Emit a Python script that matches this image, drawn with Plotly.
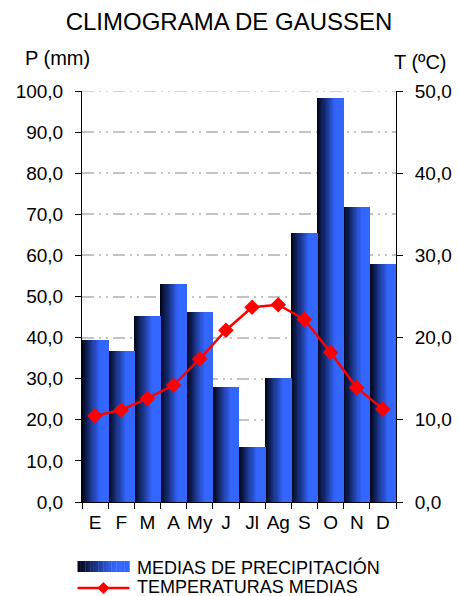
import plotly.graph_objects as go

months = ["E", "F", "M", "A", "My", "J", "Jl", "Ag", "S", "O", "N", "D"]
precip = [39.4, 36.7, 45.3, 53.1, 46.3, 28.0, 13.3, 30.2, 65.5, 98.2, 71.8, 57.9]
temp = [10.5, 11.2, 12.6, 14.2, 17.4, 20.9, 23.7, 24.0, 22.2, 18.2, 13.9, 11.3]
p_ticks = [0, 10, 20, 30, 40, 50, 60, 70, 80, 90, 100]
t_ticks = [0, 10, 20, 30, 40, 50]

FONT = "Liberation Sans, Arial, sans-serif"


def grad_color(f):
    # horizontal gradient: near black on the left, blue on the right
    c0 = (0, 2, 16)
    c1 = (51, 102, 255)
    k = min(f / 0.7, 1.0)
    return "rgb(%d,%d,%d)" % tuple(round(a + (b - a) * k) for a, b in zip(c0, c1))


fig = go.Figure()
N = 24
for i in range(N):
    f = (i + 0.5) / N
    fig.add_trace(go.Bar(
        x=months, y=precip,
        width=1.0 / N + 0.004, offset=-0.5 + i / N,
        marker=dict(color=grad_color(f), line=dict(width=0)),
        showlegend=False, hoverinfo="skip" if i else "x+y",
        name="MEDIAS DE PRECIPITACIÓN",
    ))

fig.add_trace(go.Scatter(
    x=months, y=temp, yaxis="y2", mode="lines+markers",
    line=dict(color="#FF0000", width=2.5),
    marker=dict(symbol="diamond", size=12, color="#FF0000"),
    showlegend=False, name="TEMPERATURAS MEDIAS",
))

L, R, T, B = 81.5, 62, 91, 94
W = 458 - L - R
H = 596 - T - B

grid_dash = "12px,5px,2px,5px,2px,5px"
GRID = "#C4C4C4"
fig.update_layout(
    width=458, height=596,
    margin=dict(l=L, r=R, t=T, b=B, autoexpand=False),
    paper_bgcolor="white", plot_bgcolor="white",
    bargap=0, barmode="overlay",
    separators=",.",
    font=dict(family=FONT, size=20, color="black"),
    title=dict(text="CLIMOGRAMA DE GAUSSEN", x=0.5, xanchor="center",
               y=1 - 22 / 596, yanchor="middle",
               font=dict(size=24, family=FONT, color="black")),
    xaxis=dict(
        type="category", categoryorder="array", categoryarray=months,
        range=[-0.5, 11.5], showline=True, linecolor="black", linewidth=1,
        ticks="outside", tickson="boundaries", ticklen=6, tickcolor="black",
        showgrid=False, tickfont=dict(size=19), tickangle=0, automargin=False,
        ticklabelstandoff=3, fixedrange=True,
    ),
    yaxis=dict(
        range=[0, 100], tickvals=p_ticks, tickformat=".1f",
        showline=True, linecolor="black", linewidth=1,
        ticks="outside", ticklen=6, tickcolor="black",
        showgrid=True, gridcolor=GRID, gridwidth=1.5, griddash=grid_dash,
        zeroline=False, tickfont=dict(size=19), ticklabelstandoff=8,
        automargin=False,
    ),
    yaxis2=dict(
        range=[0, 50], tickvals=t_ticks, tickformat=".1f",
        overlaying="y", side="right",
        showline=True, linecolor="black", linewidth=1,
        ticks="outside", ticklen=6, tickcolor="black",
        showgrid=False, zeroline=False, tickfont=dict(size=19),
        ticklabelstandoff=8, automargin=False,
    ),
)

# top gridline (at the last tick, which sits on the plot edge)
fig.add_shape(type="line", xref="paper", yref="y", x0=0, x1=1,
              y0=p_ticks[-1], y1=p_ticks[-1],
              line=dict(color=GRID, width=1.5, dash=grid_dash), layer="below")


def px(x):
    return (x - L) / W


def py(y):
    return (596 - B - y) / H


# axis captions
fig.add_annotation(text="P (mm)", xref="paper", yref="paper",
                   x=px(57), y=py(58), xanchor="center", yanchor="middle",
                   showarrow=False, font=dict(size=20, family=FONT))
fig.add_annotation(text="T (ºC)", xref="paper", yref="paper",
                   x=px(420), y=py(62), xanchor="center", yanchor="middle",
                   showarrow=False, font=dict(size=20, family=FONT))

# custom legend (paper coords)
M = 20
x0, x1 = 77, 129
for i in range(M):
    a = x0 + (x1 - x0) * i / M
    b = x0 + (x1 - x0) * (i + 1) / M + 0.3
    fig.add_shape(type="rect", xref="paper", yref="paper",
                  x0=px(a), x1=px(b), y0=py(572), y1=py(561),
                  fillcolor=grad_color((i + 0.5) / M), line=dict(width=0), layer="above")
fig.add_shape(type="line", xref="paper", yref="paper",
              x0=px(x0), x1=px(x1), y0=py(588), y1=py(588),
              line=dict(color="#FF0000", width=2.5), layer="above")
cx, cy, r = 103, 588, 6
fig.add_shape(type="path", xref="paper", yref="paper",
              path="M %f %f L %f %f L %f %f L %f %f Z" % (
                  px(cx - r), py(cy), px(cx), py(cy - r), px(cx + r), py(cy), px(cx), py(cy + r)),
              fillcolor="#FF0000", line=dict(width=0), layer="above")
fig.add_annotation(text="MEDIAS DE PRECIPITACIÓN", xref="paper", yref="paper",
                   x=px(135), y=py(567), xanchor="left", yanchor="middle",
                   showarrow=False, font=dict(size=18, family=FONT))
fig.add_annotation(text="TEMPERATURAS MEDIAS", xref="paper", yref="paper",
                   x=px(135), y=py(587), xanchor="left", yanchor="middle",
                   showarrow=False, font=dict(size=18, family=FONT))

fig.write_html("out.html", config={"displayModeBar": False},
               post_script="document.body.style.margin='0';document.body.style.overflow='hidden';")
